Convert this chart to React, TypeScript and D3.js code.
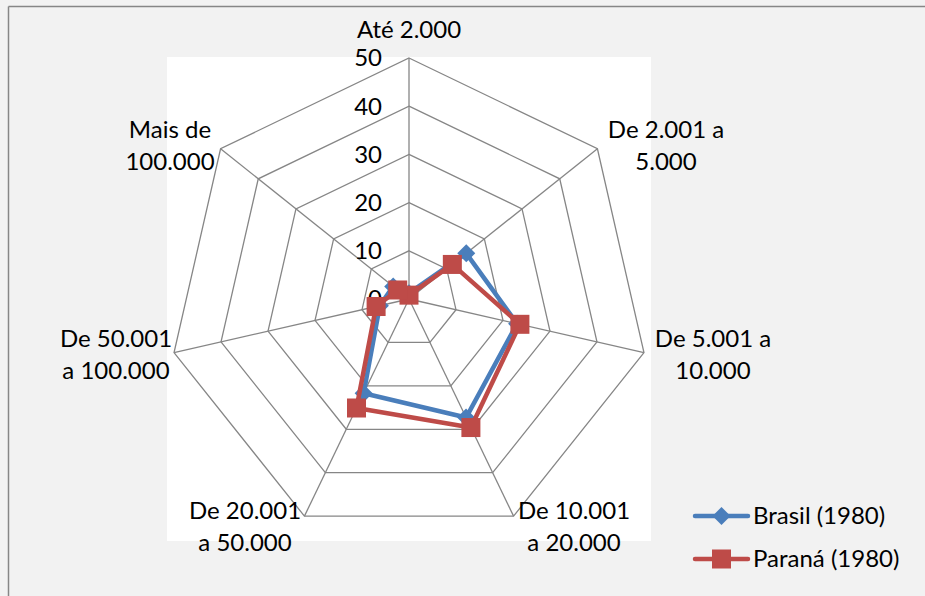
import React, { useEffect } from "react";
import * as d3 from "d3";

const categories: string[][] = [
  ["Até 2.000"],
  ["De 2.001 a", "5.000"],
  ["De 5.001 a", "10.000"],
  ["De 10.001", "a 20.000"],
  ["De 20.001", "a 50.000"],
  ["De 50.001", "a 100.000"],
  ["Mais de", "100.000"],
];
const brasil: number[] = [1.2, 15.2, 23.0, 27.3, 21.7, 6.2, 4.2];
const parana: number[] = [0.8, 11.5, 23.6, 29.6, 25.1, 7.0, 3.0];
const ticks: number[] = [0, 10, 20, 30, 40, 50];
const seriesNames = ["Brasil (1980)", "Paraná (1980)"];

const W = 925;
const H = 596;
const cx = 409;
const cy = 299;
const R = 241;
const FONT = "Lato, 'Open Sans', sans-serif";
const FS = 24;
const BLUE = "#4a7ebb";
const RED = "#be4b48";
const GRID = "#868686";

export default function App() {
  useEffect(() => {
    document.body.style.margin = "0";
    document.body.style.overflow = "hidden";
    document.documentElement.style.overflow = "hidden";
  }, []);
  const n = categories.length;
  const r = d3.scaleLinear().domain([0, 50]).range([0, R]);
  const angle = (i: number) => (i * 2 * Math.PI) / n;
  const pt = (i: number, v: number): [number, number] => {
    const a = angle(i);
    return [cx + r(v) * Math.sin(a), cy - r(v) * Math.cos(a)];
  };
  const line = d3.line<[number, number]>().curve(d3.curveLinearClosed);

  const labelPos: { x: number; y: number }[] = [
    { x: 409, y: 38 },
    { x: 666, y: 138 },
    { x: 713, y: 347 },
    { x: 574, y: 519 },
    { x: 245, y: 519 },
    { x: 116, y: 347 },
    { x: 170, y: 138 },
  ];

  const series = [
    { name: seriesNames[0], values: brasil, color: BLUE, marker: "diamond" },
    { name: seriesNames[1], values: parana, color: RED, marker: "square" },
  ];

  const marker = (m: string, x: number, y: number, color: string, key: string) =>
    m === "diamond" ? (
      <path key={key} d={`M${x},${y - 9}L${x + 9},${y}L${x},${y + 9}L${x - 9},${y}Z`} fill={color} />
    ) : (
      <rect key={key} x={x - 9.5} y={y - 9.5} width={19} height={19} fill={color} />
    );

  return (
    <svg
      width={W}
      height={H}
      style={{ display: "block", position: "fixed", left: 0, top: 0 }}
      fontFamily={FONT}
    >
      <rect x={0} y={0} width={W} height={H} fill="#f2f2f2" />
      <line x1={8.5} y1={6.5} x2={W} y2={6.5} stroke={GRID} strokeWidth={1.5} />
      <line x1={8.5} y1={6.5} x2={8.5} y2={H} stroke={GRID} strokeWidth={1.5} />
      <rect x={cx - R - 1} y={cy - R - 1} width={2 * R + 2} height={2 * R + 2} fill="#fff" />
      {ticks.slice(1).map((t) => (
        <path
          key={t}
          d={line(d3.range(n).map((i) => pt(i, t)))!}
          fill="none"
          stroke={GRID}
          strokeWidth={1.3}
        />
      ))}
      {d3.range(n).map((i) => {
        const [x, y] = pt(i, 50);
        return <line key={i} x1={cx} y1={cy} x2={x} y2={y} stroke={GRID} strokeWidth={1.3} />;
      })}
      {ticks.map((t) => (
        <text key={t} x={cx - 27} y={cy - r(t)} dy="0.35em" textAnchor="end" fontSize={FS} fill="#000">
          {t}
        </text>
      ))}
      {categories.map((c, i) => (
        <text key={i} x={labelPos[i].x} y={labelPos[i].y} textAnchor="middle" fontSize={FS} fill="#000">
          {c.map((s, j) => (
            <tspan key={j} x={labelPos[i].x} dy={j === 0 ? 0 : 32}>
              {s}
            </tspan>
          ))}
        </text>
      ))}
      {series.map((s) => (
        <g key={s.name}>
          <path
            d={line(s.values.map((v, i) => pt(i, v)))!}
            fill="none"
            stroke={s.color}
            strokeWidth={4.5}
            strokeLinejoin="round"
          />
          {s.values.map((v, i) => {
            const [x, y] = pt(i, v);
            return marker(s.marker, x, y, s.color, `${s.name}-${i}`);
          })}
        </g>
      ))}
      {series.map((s, k) => {
        const y = 516 + k * 43;
        return (
          <g key={s.name}>
            <line x1={695} x2={748} y1={y} y2={y} stroke={s.color} strokeWidth={4.5} strokeLinecap="round" />
            {marker(s.marker, 721.5, y, s.color, `leg-${k}`)}
            <text x={753} y={y} dy="0.35em" fontSize={FS} fill="#000">
              {s.name}
            </text>
          </g>
        );
      })}
    </svg>
  );
}
